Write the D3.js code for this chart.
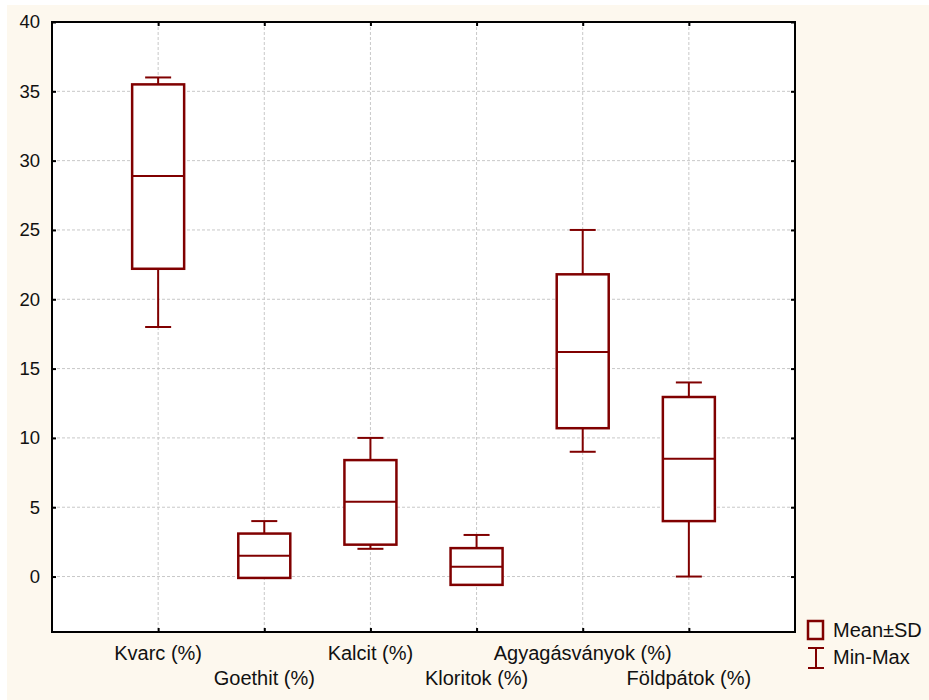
<!DOCTYPE html>
<html><head><meta charset="utf-8">
<script src="https://cdn.jsdelivr.net/npm/d3@7"></script>
<style>body{margin:0;background:#fff}svg{display:block}text{font-family:"Liberation Sans",Arial,sans-serif}</style>
</head><body>
<svg id="c" width="929" height="700"></svg>
<script>
const categories = ["Kvarc (%)","Goethit (%)","Kalcit (%)","Kloritok (%)","Agyagásványok (%)","Földpátok (%)"];
const means  = [28.9, 1.5, 5.4, 0.7, 16.2, 8.5];
const sdLow  = [22.2, -0.1, 2.3, -0.6, 10.7, 4.0];
const sdHigh = [35.5, 3.1, 8.4, 2.05, 21.8, 12.95];
const mins   = [18, 0, 2, 0, 9, 0];
const maxs   = [36, 4, 10, 3, 25, 14];
const yTicks = [0,5,10,15,20,25,30,35,40];
const legendLabels = ["Mean±SD","Min-Max"];

const col = "#800000", grid = "#c8c8c8";
const svg = d3.select("#c");
const L=52, T=22, R=795, B=632;
svg.append("rect").attr("x",7).attr("y",5).attr("width",922).attr("height",695).attr("fill","#fdf8ee");
svg.append("rect").attr("x",L).attr("y",T).attr("width",R-L).attr("height",B-T).attr("fill","#fff");

const x = d3.scalePoint().domain(categories).range([L,R]).padding(1);
const y = d3.scaleLinear().domain([-4,40]).range([B,T]);

// grid
svg.append("g").selectAll("line").data(yTicks.filter(t=>t<40)).join("line")
  .attr("x1",L).attr("x2",R).attr("y1",d=>y(d)).attr("y2",d=>y(d))
  .attr("stroke",grid).attr("stroke-dasharray","3,2").attr("stroke-width",1);
svg.append("g").selectAll("line").data(categories).join("line")
  .attr("x1",d=>x(d)).attr("x2",d=>x(d)).attr("y1",T).attr("y2",B)
  .attr("stroke",grid).attr("stroke-dasharray","3,2").attr("stroke-width",1);

// axes
const ya = d3.axisLeft(y).tickValues(yTicks).tickSize(-4).tickPadding(12);
const gy = svg.append("g").attr("transform",`translate(${L},0)`).call(ya);
gy.selectAll("text").attr("font-size","18.5px").attr("fill","#111");
svg.append("g").attr("transform",`translate(${R},0)`).call(d3.axisRight(y).tickValues(yTicks).tickSize(-4).tickFormat(""));
svg.append("g").attr("transform",`translate(0,${B})`).call(d3.axisBottom(x).tickSize(-4).tickFormat(""));
svg.append("g").attr("transform",`translate(0,${T})`).call(d3.axisTop(x).tickSize(-4).tickFormat(""));
svg.selectAll(".domain").remove();
svg.selectAll(".tick line").attr("stroke","#000").attr("stroke-width",2);
svg.append("rect").attr("x",L).attr("y",T).attr("width",R-L).attr("height",B-T)
  .attr("fill","none").attr("stroke","#000").attr("stroke-width",2);

// x labels
svg.append("g").selectAll("text").data(categories).join("text")
  .attr("x",d=>x(d)).attr("y",(d,i)=>i%2===0?660:685).attr("text-anchor","middle")
  .attr("font-size","20px").attr("fill","#111").text(d=>d);

// boxes
const bw = 52, cw = 26;
const g = svg.append("g").attr("stroke",col).attr("stroke-width",2).attr("fill","none");
categories.forEach((c,i)=>{
  const cx = x(c);
  if (maxs[i] > sdHigh[i]) g.append("line").attr("x1",cx).attr("x2",cx).attr("y1",y(maxs[i])).attr("y2",y(sdHigh[i]));
  g.append("line").attr("x1",cx-cw/2).attr("x2",cx+cw/2).attr("y1",y(maxs[i])).attr("y2",y(maxs[i]));
  if (mins[i] < sdLow[i]) {
    g.append("line").attr("x1",cx).attr("x2",cx).attr("y1",y(mins[i])).attr("y2",y(sdLow[i]));
    g.append("line").attr("x1",cx-cw/2).attr("x2",cx+cw/2).attr("y1",y(mins[i])).attr("y2",y(mins[i]));
  }
  g.append("rect").attr("x",cx-bw/2).attr("y",y(sdHigh[i])).attr("width",bw)
    .attr("height",y(sdLow[i])-y(sdHigh[i])).attr("fill","#fff").attr("stroke-width",2.5);
  g.append("line").attr("x1",cx-bw/2).attr("x2",cx+bw/2).attr("y1",y(means[i])).attr("y2",y(means[i]));
});

// legend
const lg = svg.append("g");
lg.append("rect").attr("x",808).attr("y",621).attr("width",15).attr("height",18)
  .attr("fill","none").attr("stroke",col).attr("stroke-width",2.5);
lg.append("line").attr("x1",816).attr("x2",816).attr("y1",648).attr("y2",668).attr("stroke",col).attr("stroke-width",2);
lg.append("line").attr("x1",808).attr("x2",824).attr("y1",648).attr("y2",648).attr("stroke",col).attr("stroke-width",2);
lg.append("line").attr("x1",808).attr("x2",824).attr("y1",668).attr("y2",668).attr("stroke",col).attr("stroke-width",2);
lg.selectAll("text").data(legendLabels).join("text")
  .attr("x",833).attr("y",(d,i)=>637+i*27).attr("font-size","20px").attr("fill","#111").text(d=>d);
</script>
</body></html>
